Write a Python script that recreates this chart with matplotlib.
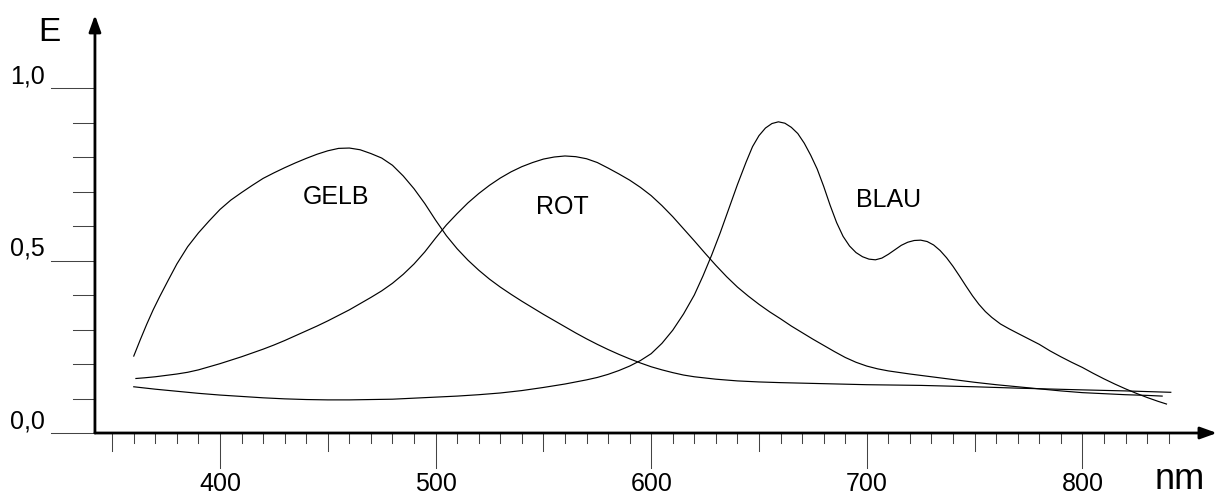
import numpy as np
import matplotlib
matplotlib.use('Agg')
import matplotlib.pyplot as plt

plt.rcParams['font.family'] = ['Liberation Sans', 'DejaVu Sans']

# Kurven (nm, E)
gelb_nm = [360, 363, 366, 369, 372, 376, 380, 385, 390, 395, 400, 405, 410, 415, 420, 425,
           430, 435, 440, 445, 450, 455, 460, 465, 470, 475, 480, 485, 490, 495, 500, 505,
           510, 515, 520, 525, 530, 535, 540, 545, 550, 555, 560, 565, 570, 575, 580, 585,
           590, 595, 600, 605, 610, 615, 620, 630, 640, 650, 660, 680, 700, 725, 750, 770,
           800, 820, 841]
gelb_e = [0.223, 0.27, 0.315, 0.357, 0.395, 0.443, 0.49, 0.54, 0.58, 0.615, 0.648, 0.675,
          0.697, 0.718, 0.738, 0.754, 0.769, 0.783, 0.796, 0.808, 0.818, 0.825, 0.826,
          0.821, 0.81, 0.797, 0.776, 0.745, 0.708, 0.665, 0.617, 0.572, 0.534, 0.501, 0.472,
          0.446, 0.423, 0.402, 0.382, 0.363, 0.344, 0.326, 0.308, 0.29, 0.273, 0.257,
          0.242, 0.228, 0.215, 0.203, 0.192, 0.183, 0.175, 0.168, 0.163, 0.156, 0.151,
          0.148, 0.146, 0.143, 0.140, 0.138, 0.134, 0.130, 0.125, 0.122, 0.118]

rot_nm = [361, 365, 370, 375, 380, 385, 390, 395, 400, 405, 410, 415, 420, 425, 430, 435,
          440, 445, 450, 455, 460, 465, 470, 475, 480, 485, 490, 495, 500, 505, 510, 515,
          520, 525, 530, 535, 540, 545, 550, 555, 560, 565, 570, 575, 580, 585, 590, 595,
          600, 605, 610, 615, 620, 625, 630, 635, 640, 645, 650, 655, 660, 665, 670, 675,
          680, 685, 690, 695, 700, 705, 710, 720, 730, 740, 750, 760, 770, 780, 790, 800,
          810, 820, 830, 837]
rot_e = [0.158, 0.16, 0.163, 0.167, 0.171, 0.176, 0.183, 0.192, 0.201, 0.211, 0.221, 0.232,
         0.243, 0.255, 0.268, 0.282, 0.296, 0.31, 0.325, 0.341, 0.357, 0.375, 0.393, 0.412,
         0.434, 0.46, 0.49, 0.525, 0.565, 0.603, 0.636, 0.667, 0.694, 0.718, 0.739, 0.757,
         0.772, 0.784, 0.794, 0.800, 0.803, 0.801, 0.795, 0.784, 0.768, 0.751, 0.733,
         0.712, 0.688, 0.659, 0.627, 0.592, 0.557, 0.521, 0.486, 0.453, 0.423, 0.397,
         0.373, 0.351, 0.331, 0.31, 0.291, 0.272, 0.254, 0.236, 0.219, 0.205, 0.194, 0.186,
         0.18, 0.171, 0.163, 0.155, 0.147, 0.140, 0.134, 0.128, 0.122, 0.117, 0.114, 0.111,
         0.109, 0.107]

blau_nm = [360, 370, 380, 390, 400, 410, 420, 430, 440, 450, 460, 470, 480, 490, 500, 510,
           520, 530, 540, 550, 560, 570, 575, 580, 585, 590, 595, 600, 605, 610, 615, 620,
           624, 628, 632, 636, 640, 644, 647, 650, 653, 656, 659, 662, 665, 668, 671, 674,
           677, 680, 683, 686, 689, 692, 695, 698, 701, 704, 707, 710, 713, 716, 719, 722,
           725, 728, 731, 734, 737, 740, 743, 746, 749, 752, 755, 758, 762, 766, 770, 775,
           780, 785, 790, 795, 800, 805, 810, 815, 820, 825, 830, 835, 839]
blau_e = [0.134, 0.127, 0.121, 0.115, 0.110, 0.106, 0.102, 0.099, 0.097, 0.096, 0.096,
          0.097, 0.098, 0.101, 0.104, 0.107, 0.111, 0.116, 0.123, 0.132, 0.142, 0.154,
          0.161, 0.17, 0.181, 0.194, 0.21, 0.23, 0.26, 0.298, 0.345, 0.40, 0.455, 0.515,
          0.58, 0.65, 0.72, 0.785, 0.83, 0.862, 0.884, 0.897, 0.902, 0.898, 0.886, 0.868,
          0.84, 0.805, 0.765, 0.715, 0.66, 0.61, 0.57, 0.542, 0.523, 0.511, 0.504, 0.502,
          0.507, 0.518, 0.531, 0.544, 0.553, 0.558, 0.559, 0.555, 0.545, 0.529, 0.508,
          0.483, 0.455, 0.426, 0.398, 0.373, 0.352, 0.335, 0.316, 0.302, 0.289, 0.273,
          0.257, 0.238, 0.221, 0.205, 0.19, 0.173, 0.157, 0.142, 0.128, 0.115, 0.103,
          0.092, 0.084]

kurven_namen = ['GELB', 'ROT', 'BLAU']
namen_pos = [(454, 0.683), (559, 0.655), (710, 0.675)]

x_ticks_major = [400, 500, 600, 700, 800]
x_ticks_all = list(range(350, 841, 10))
y_ticks_major = [0.0, 0.5, 1.0]
y_ticks_minor = [0.1, 0.2, 0.3, 0.4, 0.6, 0.7, 0.8, 0.9]
y_labels = ['0,0', '0,5', '1,0']

# Bild: 1218x495 px
fig = plt.figure(figsize=(12.18, 4.95), dpi=100)
ax = fig.add_axes([0, 0, 1, 1])
ax.set_xlim(297.96, 862.9)
ax.set_ylim(-0.1797, 1.2551)
ax.axis('off')

x_achse = 342.0  # Lage der E-Achse in nm

# Kurven
for nm, e in [(gelb_nm, gelb_e), (rot_nm, rot_e), (blau_nm, blau_e)]:
    ax.plot(nm, e, color='black', lw=0.85, solid_joinstyle='round')

for name, (px, py) in zip(kurven_namen, namen_pos):
    ax.text(px, py, name, ha='center', va='center', fontsize=18)

# Achsen mit Pfeilen
pfeil = dict(arrowstyle='-|>,head_length=10,head_width=3.6', color='black',
             lw=2, shrinkA=0, shrinkB=0, mutation_scale=1)
ax.annotate('', xy=(862.4, 0), xytext=(x_achse, 0), arrowprops=pfeil)
ax.annotate('', xy=(x_achse, 1.2116), xytext=(x_achse, 0), arrowprops=pfeil)

# x-Ticks
for t in x_ticks_all:
    if t % 100 == 0:
        laenge = 0.1014
    elif t % 50 == 0:
        laenge = 0.052
    else:
        laenge = 0.029
    ax.plot([t, t], [0, -laenge], color='#444444', lw=0.75)
for t in x_ticks_major:
    ax.text(t, -0.169, str(t), ha='center', va='baseline', fontsize=18)

# y-Ticks
for v in y_ticks_minor:
    ax.plot([x_achse - 10.2, x_achse], [v, v], color='#444444', lw=0.75)
for v, lab in zip(y_ticks_major, y_labels):
    ax.plot([x_achse - 20.4, x_achse], [v, v], color='#444444', lw=0.75)
    ax.text(318.8, v + 0.0145, lab, ha='right', va='baseline', fontsize=18)

ax.text(320.7, 1.136, 'E', ha='center', va='baseline', fontsize=24)
ax.text(845.3, -0.162, 'nm', ha='center', va='baseline', fontsize=26)

fig.savefig('out.png', dpi=100)
